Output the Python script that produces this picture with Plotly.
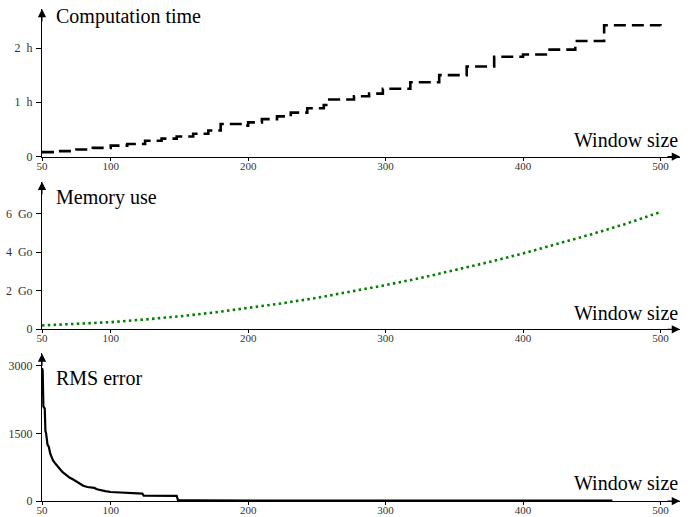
import plotly.graph_objects as go

# ---------------- data ----------------
x_ticks = [50, 100, 200, 300, 400, 500]
x_tick_labels = ["50", "100", "200", "300", "400", "500"]

# Computation time (hours), step function
ct_x = [50, 62, 75, 87, 100, 112, 125, 137, 148, 160, 171, 180, 197, 200, 210,
        221, 231, 243, 255, 259, 277, 288, 298, 318, 339, 359, 379, 400, 418,
        438, 459, 500]
ct_h = [0.08, 0.10, 0.13, 0.16, 0.20, 0.23, 0.29, 0.33, 0.37, 0.42, 0.48, 0.60,
        0.57, 0.63, 0.69, 0.74, 0.81, 0.89, 0.95, 1.05, 1.11, 1.16, 1.25, 1.37,
        1.50, 1.66, 1.84, 1.88, 1.97, 2.13, 2.42, 2.41]
ct_ticks = [0, 1, 2]
ct_tick_labels = ["0", "1\u2002h", "2\u2002h"]

# Memory use (Go)
mem_x = [50, 75, 100, 125, 150, 175, 200, 225, 250, 275, 300, 325, 350, 375,
         400, 425, 450, 475, 500]
mem_go = [0.20, 0.27, 0.37, 0.51, 0.67, 0.87, 1.10, 1.35, 1.63, 1.95, 2.29,
          2.65, 3.05, 3.48, 3.93, 4.42, 4.93, 5.47, 6.08]
mem_ticks = [0, 2, 4, 6]
mem_tick_labels = ["0", "2\u2002Go", "4\u2002Go", "6\u2002Go"]

# RMS error
rms_x = [50, 50.5, 51, 52, 52.5, 53, 54, 55, 56, 57, 58, 60, 62, 65, 68, 70,
         73, 75, 78, 80, 83, 86, 88, 90, 93, 96, 100, 105, 110, 115, 120, 123,
         124, 148, 149, 160, 250, 350, 465]
rms_v = [2950, 2900, 2100, 2050, 1550, 1500, 1250, 1200, 1050, 950, 900, 820,
         740, 640, 570, 520, 470, 430, 380, 340, 310, 295, 290, 260, 235, 220,
         200, 195, 185, 175, 170, 165, 120, 115, 15, 12, 10, 10, 10]
rms_ticks = [0, 1500, 3000]
rms_tick_labels = ["0", "1500", "3000"]

panel_titles = ["Computation time", "Memory use", "RMS error"]
x_title = "Window size"

# ---------------- figure ----------------
FONT = "Liberation Serif"
X_RANGE = [50, 514.2]
Y_RANGES = [[0, 2.72], [0, 7.65], [0, 3276]]
DOMAINS = [[0.7002, 1.0], [0.349, 0.649], [0.0, 0.300]]

fig = go.Figure()
fig.add_trace(go.Scatter(x=ct_x, y=ct_h, mode="lines",
                         line=dict(color="black", width=2.6, dash="12px,6px", shape="hv"),
                         xaxis="x", yaxis="y", showlegend=False))
fig.add_trace(go.Scatter(x=mem_x, y=mem_go, mode="lines",
                         line=dict(color="#008000", width=2.6, dash="2.5px,3.3px"),
                         xaxis="x2", yaxis="y2", showlegend=False))
fig.add_trace(go.Scatter(x=rms_x, y=rms_v, mode="lines",
                         line=dict(color="black", width=2.2),
                         xaxis="x3", yaxis="y3", showlegend=False))

ytick_sets = [(ct_ticks, ct_tick_labels), (mem_ticks, mem_tick_labels), (rms_ticks, rms_tick_labels)]

layout = dict(
    width=694, height=517, template="none",
    margin=dict(l=42, r=14, t=9, b=16),
    paper_bgcolor="white", plot_bgcolor="white",
    font=dict(family=FONT, color="black"),
    showlegend=False,
)

annotations = []
for i in range(3):
    sx = "" if i == 0 else str(i + 1)
    xa = "xaxis" + sx
    ya = "yaxis" + sx
    layout[xa] = dict(
        domain=[0, 1], anchor="y" + sx, range=X_RANGE,
        showgrid=False, zeroline=False, showline=True, linecolor="black", linewidth=1,
        ticks="outside", ticklen=3, tickwidth=1, tickcolor="black",
        tickvals=x_ticks, ticktext=x_tick_labels, ticklabelstandoff=-4,
        tickfont=dict(family=FONT, size=11, color="#333"), automargin=False,
    )
    layout[ya] = dict(
        domain=DOMAINS[i], anchor="x" + sx, range=Y_RANGES[i],
        showgrid=False, zeroline=False, showline=True, linecolor="black", linewidth=1,
        ticks="outside", ticklen=5, tickwidth=1, tickcolor="black",
        tickvals=ytick_sets[i][0], ticktext=ytick_sets[i][1], ticklabelstandoff=1,
        tickfont=dict(family=FONT, size=12, color="#333"), automargin=False,
    )
    # overlay axis to make the x ticks cross the axis line
    ox = "xaxis" + str(i + 4)
    layout[ox] = dict(
        overlaying="x" + sx, anchor="y" + sx, range=X_RANGE, side="bottom",
        showgrid=False, zeroline=False, showline=False,
        ticks="inside", ticklen=4, tickwidth=1, tickcolor="black",
        tickvals=x_ticks, showticklabels=False, automargin=False,
    )
    # arrow heads on axes
    annotations.append(dict(x=X_RANGE[1], y=0, xref="x" + sx, yref="y" + sx,
                            text="", showarrow=True, arrowhead=2, arrowsize=1.5,
                            arrowwidth=1.1, arrowcolor="black", ax=-14, ay=0, standoff=0))
    annotations.append(dict(x=X_RANGE[0], y=Y_RANGES[i][1], xref="x" + sx, yref="y" + sx,
                            text="", showarrow=True, arrowhead=2, arrowsize=1.5,
                            arrowwidth=1.1, arrowcolor="black", ax=0, ay=14, standoff=0))
    # panel titles
    title_y = [0.948, 0.896, 0.832][i]
    annotations.append(dict(x=0.019, y=title_y, xref="x%s domain" % sx, yref="y%s domain" % sx,
                            text=panel_titles[i], showarrow=False, xanchor="left", yanchor="middle",
                            font=dict(family=FONT, size=20, color="black")))
    wy = [0.112, 0.11, 0.12][i]
    annotations.append(dict(x=1.0, y=wy, xref="x%s domain" % sx, yref="y%s domain" % sx,
                            text=x_title, showarrow=False, xanchor="right", yanchor="middle",
                            font=dict(family=FONT, size=20, color="black")))

layout["annotations"] = annotations
fig.update_layout(**layout)
fig.write_html("out.html")
